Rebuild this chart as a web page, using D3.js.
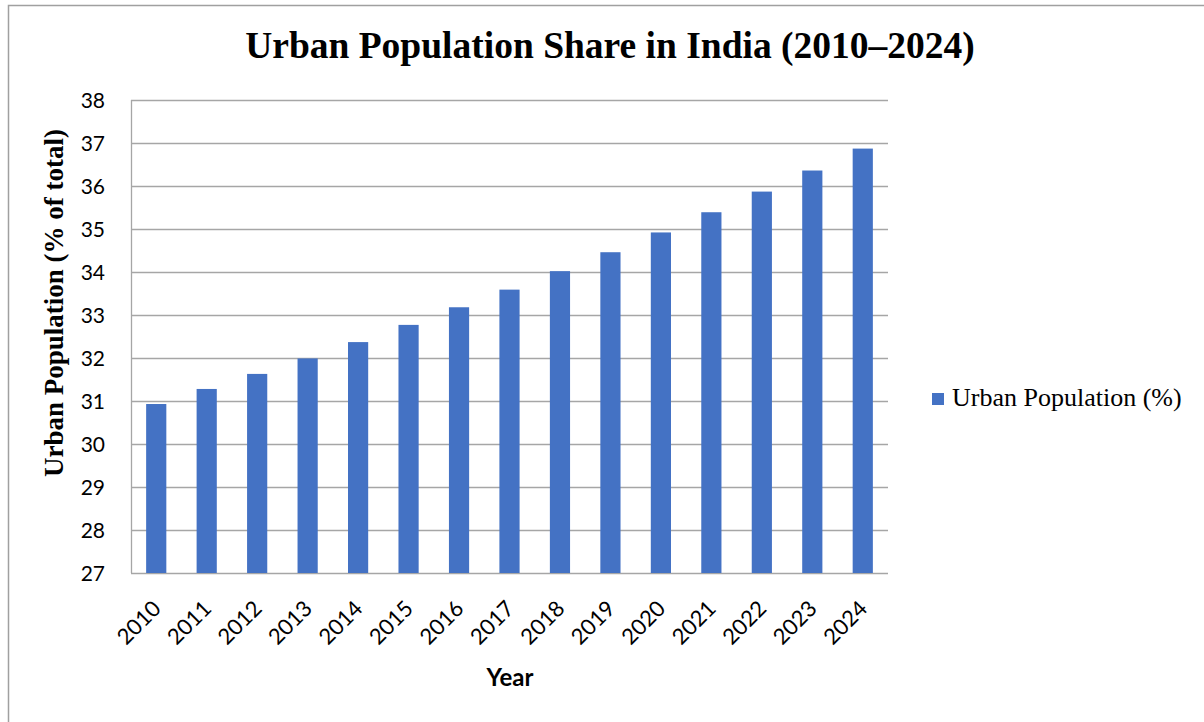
<!DOCTYPE html>
<html>
<head>
<meta charset="utf-8">
<script src="https://cdn.jsdelivr.net/npm/d3@7"></script>
<style>
  body { margin: 0; background: #fff; }
  svg { display: block; }
</style>
</head>
<body>
<div id="chart"></div>
<script>
var width = 1204;
var height = 722;

// data
var years = ["2010", "2011", "2012", "2013", "2014", "2015", "2016", "2017",
             "2018", "2019", "2020", "2021", "2022", "2023", "2024"];
var urbanShare = [30.93, 31.28, 31.63, 31.99, 32.37, 32.77, 33.18, 33.59,
                  34.02, 34.46, 34.92, 35.39, 35.87, 36.36, 36.87];
var yTicks = [27, 28, 29, 30, 31, 32, 33, 34, 35, 36, 37, 38];
var seriesName = "Urban Population (%)";

var margin = {top: 100, left: 131, right: 316, bottom: 149};
var plotW = width - margin.left - margin.right;
var plotH = height - margin.top - margin.bottom;

var svg = d3.select("#chart")
  .append("svg")
  .attr("width", width)
  .attr("height", height);

// outer frame
svg.append("rect")
  .attr("x", 8.5).attr("y", 5.5)
  .attr("width", width + 10).attr("height", height + 10)
  .attr("fill", "none")
  .attr("stroke", "#a0a0a0")
  .attr("stroke-width", 1.5);

var x = d3.scaleBand()
  .domain(years)
  .range([0, plotW])
  .paddingInner(0.6)
  .paddingOuter(0.3);

var y = d3.scaleLinear()
  .domain([27, 38])
  .range([plotH, 0]);

var g = svg.append("g")
  .attr("transform", "translate(" + margin.left + "," + margin.top + ")");

// gridlines
g.append("g")
  .selectAll("line")
  .data(yTicks)
  .enter().append("line")
  .attr("x1", 0).attr("x2", plotW)
  .attr("y1", function(d) { return Math.round(y(d)) + 0.5; })
  .attr("y2", function(d) { return Math.round(y(d)) + 0.5; })
  .attr("stroke", "#a6a6a6")
  .attr("stroke-width", 1.3);

// left axis line
g.append("line")
  .attr("x1", 0.5).attr("x2", 0.5)
  .attr("y1", 0).attr("y2", plotH)
  .attr("stroke", "#a6a6a6")
  .attr("stroke-width", 1.3);

// bars
g.append("g")
  .selectAll("rect")
  .data(urbanShare)
  .enter().append("rect")
  .attr("x", function(d, i) { return x(years[i]); })
  .attr("width", x.bandwidth())
  .attr("y", function(d) { return y(d); })
  .attr("height", function(d) { return plotH - y(d); })
  .attr("fill", "#4472c4");

// y tick labels
g.append("g")
  .selectAll("text")
  .data(yTicks)
  .enter().append("text")
  .attr("x", -26)
  .attr("y", function(d) { return y(d); })
  .attr("dy", "0.36em")
  .attr("text-anchor", "end")
  .style("font-family", "Lato, 'Open Sans', sans-serif")
  .style("font-size", "21px")
  .attr("fill", "#000")
  .text(function(d) { return d; });

// x tick labels, rotated
g.append("g")
  .selectAll("text")
  .data(years)
  .enter().append("text")
  .attr("transform", function(d) {
    return "translate(" + (x(d) + x.bandwidth() / 2 + 6) + "," + (plotH + 37) + ") rotate(-45)";
  })
  .attr("text-anchor", "end")
  .style("font-family", "Lato, 'Open Sans', sans-serif")
  .style("font-size", "22px")
  .attr("fill", "#000")
  .text(function(d) { return d; });

// title
svg.append("text")
  .attr("x", 610)
  .attr("y", 58)
  .attr("text-anchor", "middle")
  .style("font-family", "'Liberation Serif', 'Times New Roman', serif")
  .style("font-weight", "bold")
  .style("font-size", "37.5px")
  .text("Urban Population Share in India (2010\u20132024)");

// y axis title
svg.append("text")
  .attr("transform", "translate(63,303) rotate(-90)")
  .attr("text-anchor", "middle")
  .style("font-family", "'Liberation Serif', 'Times New Roman', serif")
  .style("font-weight", "bold")
  .style("font-size", "27px")
  .text("Urban Population (% of total)");

// x axis title
svg.append("text")
  .attr("x", 510)
  .attr("y", 686)
  .attr("text-anchor", "middle")
  .style("font-family", "Lato, 'Open Sans', sans-serif")
  .style("font-weight", "bold")
  .style("font-size", "24px")
  .text("Year");

// legend
var legend = svg.append("g").attr("transform", "translate(932,393)");
legend.append("rect")
  .attr("width", 12).attr("height", 12)
  .attr("fill", "#4472c4");
legend.append("text")
  .attr("x", 20)
  .attr("y", 13)
  .style("font-family", "'Liberation Serif', 'Times New Roman', serif")
  .style("font-size", "26px")
  .text(seriesName);
</script>
</body>
</html>
